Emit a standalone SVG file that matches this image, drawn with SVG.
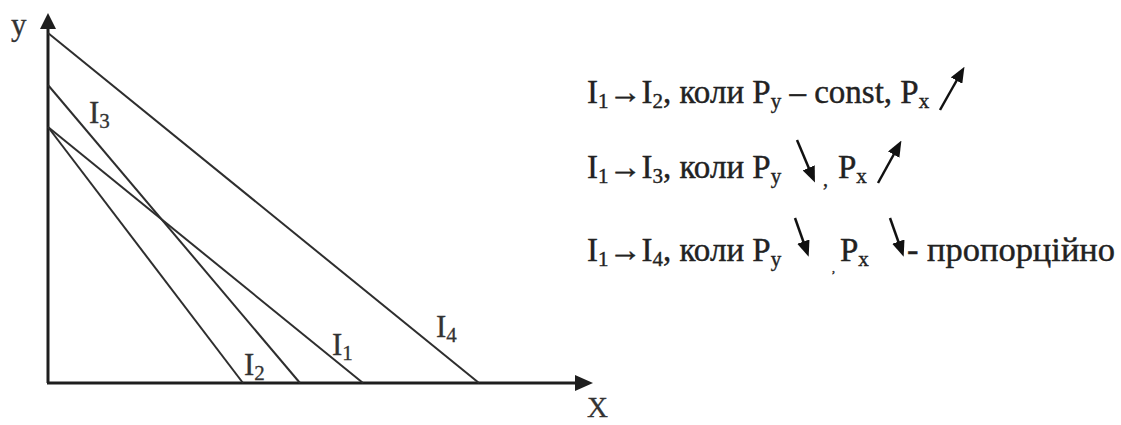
<svg xmlns="http://www.w3.org/2000/svg" width="1121" height="425" viewBox="0 0 1121 425">
<style>
.ax{stroke:#1e1e1e;stroke-width:3;fill:none}
.ln{stroke:#2e2e2e;stroke-width:2;fill:none}
.t{font-size:33px;fill:#222;stroke:#222;stroke-width:0.4}
.lb{font-size:31px;fill:#333;stroke:#333;stroke-width:0.3}
.sub{font-size:21px}
.ar{stroke:#111;stroke-width:2.5;fill:none;marker-end:url(#ah)}
</style>
<defs>
<marker id="ah" markerWidth="16" markerHeight="13" refX="11" refY="6.5" orient="auto" markerUnits="userSpaceOnUse" viewBox="0 0 16 13">
<path d="M0,0 L16,6.5 L0,13 Z" fill="#111"/>
</marker>
</defs>
<g id="axes" font-family="Liberation Serif, Times New Roman, serif">
<line class="ax" x1="48" y1="383" x2="48" y2="26"/>
<polygon points="48,13 40,29 56,29" fill="#1e1e1e"/>
<line class="ax" x1="47" y1="383" x2="578" y2="383"/>
<polygon points="593,383 575,375 575,391" fill="#1e1e1e"/>
<text class="lb" x="11" y="35">y</text>
<text class="lb" x="587" y="417" style="font-size:29px">X</text>
</g>
<g id="budget-lines">
<line class="ln" x1="48" y1="33" x2="479" y2="383"/>
<line class="ln" x1="48" y1="85" x2="300" y2="383"/>
<line class="ln" x1="48" y1="127" x2="243" y2="383"/>
<line class="ln" x1="48" y1="127" x2="363" y2="383"/>
</g>
<g id="labels" font-family="Liberation Serif, Times New Roman, serif">
<text class="lb" x="89" y="123">I<tspan class="sub" dy="5">3</tspan></text>
<text class="lb" x="244" y="375">I<tspan class="sub" dy="5">2</tspan></text>
<text class="lb" x="332" y="355">I<tspan class="sub" dy="5">1</tspan></text>
<text class="lb" x="436" y="337">I<tspan class="sub" dy="5">4</tspan></text>
</g>
<g id="legend" font-family="Liberation Serif, Times New Roman, serif">
<text class="t" x="587" y="103">I<tspan class="sub" dy="5">1</tspan><tspan dy="-5">→I</tspan><tspan class="sub" dy="5">2</tspan><tspan dy="-5">, коли P</tspan><tspan class="sub" dy="5">y</tspan><tspan dy="-5"> – const, P</tspan><tspan class="sub" dy="5">x</tspan></text>
<line class="ar" x1="940" y1="110" x2="962" y2="71"/>
<text class="t" x="587" y="178">I<tspan class="sub" dy="5">1</tspan><tspan dy="-5">→I</tspan><tspan class="sub" dy="5">3</tspan><tspan dy="-5">, коли P</tspan><tspan class="sub" dy="5">y</tspan></text>
<line class="ar" x1="797" y1="140" x2="813" y2="178"/>
<text class="t" x="823" y="186" style="font-size:20px">,</text>
<text class="t" x="838" y="178">P<tspan class="sub" dy="5">x</tspan></text>
<line class="ar" x1="878" y1="183" x2="899" y2="145"/>
<text class="t" x="587" y="261">I<tspan class="sub" dy="5">1</tspan><tspan dy="-5">→I</tspan><tspan class="sub" dy="5">4</tspan><tspan dy="-5">, коли P</tspan><tspan class="sub" dy="5">y</tspan></text>
<line class="ar" x1="795" y1="218" x2="807" y2="252"/>
<text class="t" x="832" y="272" style="font-size:12px">,</text>
<text class="t" x="840" y="261">P<tspan class="sub" dy="5">x</tspan></text>
<line class="ar" x1="890" y1="218" x2="902" y2="252"/>
<text class="t" x="907" y="261" textLength="208" lengthAdjust="spacingAndGlyphs">- пропорційно</text>
</g>
</svg>
